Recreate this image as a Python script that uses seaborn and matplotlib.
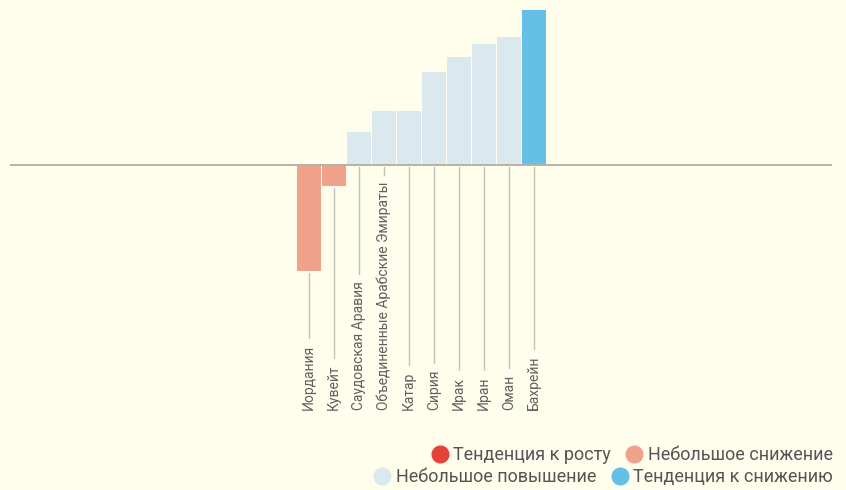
import pandas as pd
import seaborn as sns
import matplotlib.pyplot as plt
from matplotlib.lines import Line2D

countries = ['Иордания', 'Кувейт', 'Саудовская Аравия', 'Объединенные Арабские Эмираты',
             'Катар', 'Сирия', 'Ирак', 'Иран', 'Оман', 'Бахрейн']
values = [-10.6, -2.1, 3.3, 5.4, 5.4, 9.3, 10.8, 12.1, 12.8, 15.5]
trend = ['Небольшое снижение', 'Небольшое снижение',
         'Небольшое повышение', 'Небольшое повышение', 'Небольшое повышение',
         'Небольшое повышение', 'Небольшое повышение', 'Небольшое повышение',
         'Небольшое повышение', 'Тенденция к снижению']

colors = {
    'Тенденция к росту': '#e4433a',
    'Небольшое снижение': '#f0a28a',
    'Небольшое повышение': '#dbe9ee',
    'Тенденция к снижению': '#64c0e4',
}
bg = '#fffdec'

sns.set_style('white')
plt.rcParams['font.family'] = ['Roboto', 'DejaVu Sans']

df = pd.DataFrame({'country': countries, 'value': values, 'trend': trend})

fig = plt.figure(figsize=(8.46, 4.9), dpi=100, facecolor=bg)
ax = fig.add_axes([10 / 846, 70 / 490, 822 / 846, 412 / 490])
ax.set_facecolor(bg)

sns.barplot(data=df, x='country', y='value', hue='trend', order=countries,
            palette=colors, dodge=False, width=0.96, legend=False, ax=ax,
            linewidth=0, saturation=1)

ax.set_xlim(-11.96, 20.92)
ax.set_ylim(-25.5, 15.7)
ax.axhline(0, color='#b3b2aa', lw=1.4, zorder=3)
for s in ax.spines.values():
    s.set_visible(False)
ax.set_xticks([])
ax.set_yticks([])
ax.set_xlabel('')
ax.set_ylabel('')

label_y = -24.5
texts = []
for i, name in enumerate(countries):
    t = ax.text(i, label_y, name, rotation=90, ha='center', va='bottom',
                fontsize=10, color='#606060')
    texts.append(t)

fig.canvas.draw()
renderer = fig.canvas.get_renderer()
inv = ax.transData.inverted()
for i, t in enumerate(texts):
    bb = t.get_window_extent(renderer)
    top = inv.transform((0, bb.y1))[1] + 0.7
    start = min(values[i], 0) - 0.2
    ax.plot([i, i], [start, top], color='#c4c2b8', lw=1, zorder=1)


def handle(c):
    return Line2D([], [], marker='o', ls='', markersize=12, markerfacecolor=colors[c],
                  markeredgecolor=colors[c])


row1 = ['Тенденция к росту', 'Небольшое снижение']
row2 = ['Небольшое повышение', 'Тенденция к снижению']
leg_kw = dict(ncol=2, frameon=False, fontsize=13, labelcolor='#555555',
              handletextpad=0.25, columnspacing=0.8, borderaxespad=0,
              handlelength=1.0, borderpad=0)
fig.legend([handle(c) for c in row1], row1, loc='center right',
           bbox_to_anchor=(833 / 846, 1 - 455 / 490), **leg_kw)
fig.legend([handle(c) for c in row2], row2, loc='center right',
           bbox_to_anchor=(833 / 846, 1 - 477 / 490), **leg_kw)

fig.savefig('out.png', dpi=100, facecolor=bg)
